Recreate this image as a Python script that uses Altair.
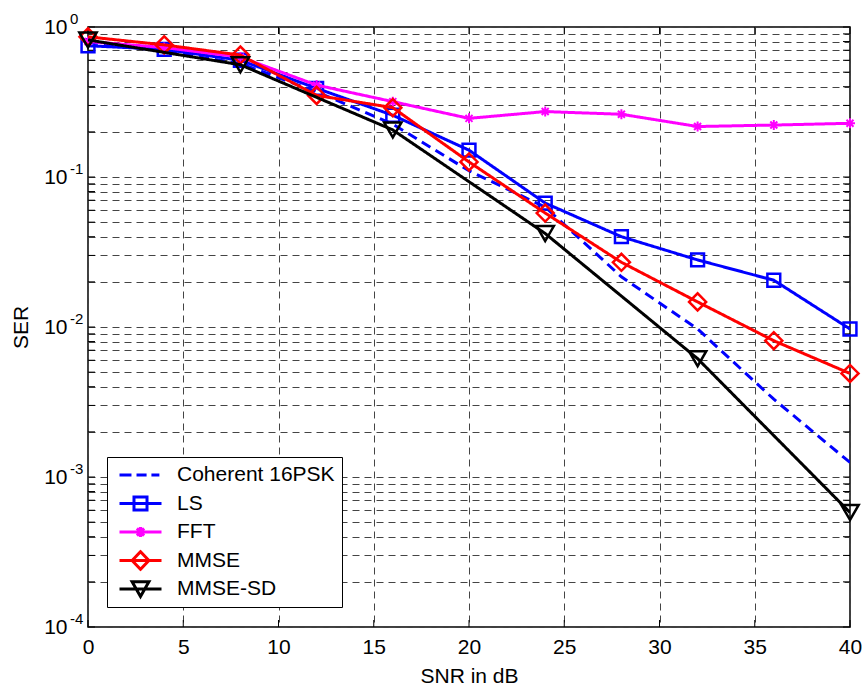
import altair as alt
import pandas as pd

# ---- data -------------------------------------------------------------
snr_db = [0, 4, 8, 12, 16, 20, 24, 28, 32, 36, 40]
coherent_16psk = [0.79, 0.69, 0.57, 0.37, 0.225, 0.11, 0.063, 0.0216, 0.0097, 0.0033, 0.00125]
ls = [0.75, 0.71, 0.60, 0.39, 0.258, 0.151, 0.067, 0.040, 0.028, 0.0205, 0.0097]
fft = [0.80, 0.73, 0.63, 0.41, 0.318, 0.246, 0.273, 0.262, 0.217, 0.222, 0.228]
mmse = [0.86, 0.76, 0.65, 0.35, 0.29, 0.126, 0.0575, 0.027, 0.0147, 0.0081, 0.0049]
snr_db_sd = [0, 8, 16, 24, 32, 40]
mmse_sd = [0.82, 0.56, 0.206, 0.042, 0.00615, 0.00058]

series_names = ["Coherent 16PSK", "LS", "FFT", "MMSE", "MMSE-SD"]
series_x = [snr_db, snr_db, snr_db, snr_db, snr_db_sd]
series_y = [coherent_16psk, ls, fft, mmse, mmse_sd]
series_colors = ["#0000ff", "#0000ff", "#ff00ff", "#ff0000", "#000000"]

x_ticks = [0, 5, 10, 15, 20, 25, 30, 35, 40]
decades = [1.0, 0.1, 0.01, 0.001, 0.0001]
decade_exponents = ["0", "-1", "-2", "-3", "-4"]
y_grid = [m * 10.0 ** e for e in range(-4, 0) for m in range(1, 10)] + [1.0]

# ---- styling ----------------------------------------------------------
FONT = "Liberation Sans"
W, H = 762, 600
LINE_W = 3

asterisk = "M-1,0L1,0M0,-1L0,1M-0.7,-0.7L0.7,0.7M-0.7,0.7L0.7,-0.7"
marker_shapes = [None, "square", asterisk, "diamond", "triangle-down"]
marker_sizes = [0, 165, 100, 290, 300]
marker_strokes = [0, 2.5, 2, 2.5, 2.5]
line_dashes = [[10, 6], [1, 0], [1, 0], [1, 0], [1, 0]]

# legend glyphs: a short line with the series marker in its middle
legend_paths = [
    "M-1,0L-0.43,0M-0.19,0L0.29,0M0.52,0L0.9,0",
    "M-1,0L1,0M-0.31,-0.31L0.31,-0.31L0.31,0.31L-0.31,0.31Z",
    "M-1,0L1,0M-0.24,0L0.24,0M0,-0.24L0,0.24M-0.17,-0.17L0.17,0.17M-0.17,0.17L0.17,-0.17",
    "M-1,0L1,0M-0.4,0L0,-0.42L0.4,0L0,0.42Z",
    "M-1,0L1,0M0,0.36L-0.4,-0.34L0.4,-0.34Z",
]

rows = []
for name, xs, ys in zip(series_names, series_x, series_y):
    for xv, yv in zip(xs, ys):
        rows.append({"series": name, "snr": xv, "ser": yv})
df = pd.DataFrame(rows)

x_scale = alt.Scale(domain=[0, 40], nice=False, zero=False)
y_scale = alt.Scale(type="log", domain=[1e-4, 1], nice=False)

x_enc = alt.X(
    "snr:Q",
    scale=x_scale,
    axis=alt.Axis(
        values=x_ticks,
        format="d",
        title="SNR in dB",
        labelPadding=9,
        titlePadding=8,
        labelFlush=False,
        labelOverlap=False,
    ),
)
y_enc = alt.Y(
    "ser:Q",
    scale=y_scale,
    axis=alt.Axis(
        values=y_grid,
        labelExpr="abs(log(datum.value)/LN10 - round(log(datum.value)/LN10)) < 0.001 ? '10' : ''",
        title="SER",
        labelPadding=21,
        titlePadding=12,
        labelOverlap=False,
        labelFlush=False,
    ),
)

layers = []

# inward tick marks on all four sides of the box
ytick_df = pd.DataFrame({"ser": y_grid})
xtick_df = pd.DataFrame({"snr": x_ticks})
tick_style = dict(color="black", strokeWidth=1)
layers.append(alt.Chart(ytick_df).mark_rule(**tick_style).encode(y=y_enc, x=alt.value(0), x2=alt.value(7)))
layers.append(alt.Chart(ytick_df).mark_rule(**tick_style).encode(y=y_enc, x=alt.value(W - 7), x2=alt.value(W)))
layers.append(alt.Chart(xtick_df).mark_rule(**tick_style).encode(x=x_enc, y=alt.value(H - 7), y2=alt.value(H)))
layers.append(alt.Chart(xtick_df).mark_rule(**tick_style).encode(x=x_enc, y=alt.value(0), y2=alt.value(7)))

# curves and markers, drawn series by series
for name, color, dash, shape, size, sw in zip(
    series_names, series_colors, line_dashes, marker_shapes, marker_sizes, marker_strokes
):
    sub = alt.Chart(df).transform_filter(alt.datum.series == name)
    layers.append(
        sub.mark_line(color=color, strokeWidth=LINE_W, strokeDash=dash, clip=True).encode(x=x_enc, y=y_enc)
    )
    if shape is not None:
        layers.append(
            sub.mark_point(
                shape=shape, size=size, filled=False, color=color, strokeWidth=sw, opacity=1
            ).encode(x=x_enc, y=y_enc)
        )

# exponents of the decade labels on the y axis
exp_df = pd.DataFrame({"ser": decades, "exp": decade_exponents})
layers.append(
    alt.Chart(exp_df)
    .mark_text(align="left", baseline="middle", font=FONT, fontSize=15, dy=-8, color="black")
    .encode(x=alt.value(-18), y=y_enc, text="exp:N")
)

# legend
legend = alt.Legend(
    title=None,
    orient="none",
    legendX=19,
    legendY=430,
    fillColor="white",
    strokeColor="black",
    padding=7,
    symbolSize=1764,
    symbolStrokeWidth=3,
    symbolOffset=4,
    clipHeight=22,
    rowPadding=6.5,
    labelFont=FONT,
    labelFontSize=21,
    labelOffset=14,
    labelColor="black",
)
layers.append(
    alt.Chart(df)
    .transform_filter("false")
    .mark_point(filled=False, opacity=1)
    .encode(
        color=alt.Color("series:N", scale=alt.Scale(domain=series_names, range=series_colors), legend=legend),
        shape=alt.Shape("series:N", scale=alt.Scale(domain=series_names, range=legend_paths), legend=legend),
    )
)

chart = (
    alt.layer(*layers)
    .properties(
        width=W,
        height=H,
        background="white",
        autosize=alt.AutoSizeParams(type="none"),
        padding={"left": 88, "top": 27, "right": 17, "bottom": 65},
    )
    .configure_view(stroke="black", strokeWidth=1.5)
    .configure_axis(
        domain=False,
        ticks=False,
        grid=True,
        gridColor="#444444",
        gridDash=[7, 5],
        gridWidth=1,
        gridOpacity=1,
        labelFont=FONT,
        labelFontSize=21,
        labelColor="black",
        titleFont=FONT,
        titleFontSize=21,
        titleFontWeight="normal",
        titleColor="black",
    )
)

chart.save("out.html", embed_options={"renderer": "svg", "actions": False})
